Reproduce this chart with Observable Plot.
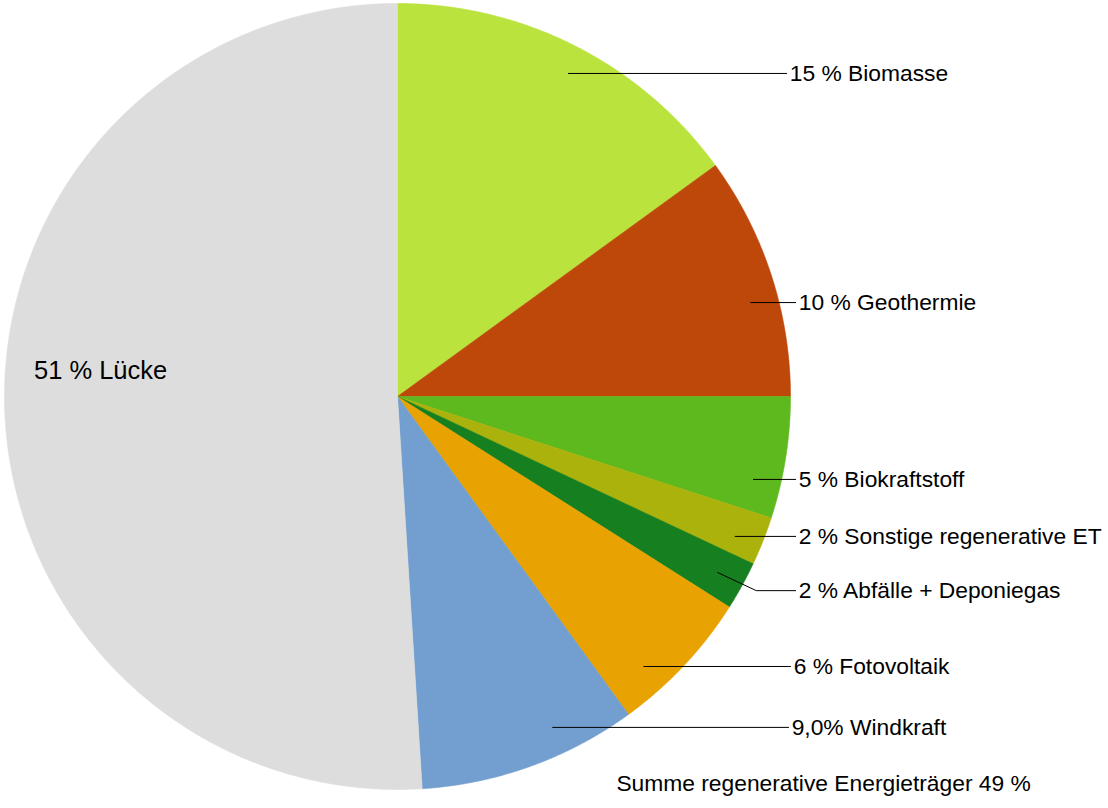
<!DOCTYPE html>
<html>
<head>
<meta charset="utf-8">
<script src="https://cdn.jsdelivr.net/npm/d3@7"></script>
<script src="https://cdn.jsdelivr.net/npm/@observablehq/plot@0.6"></script>
<style>
  html, body { margin: 0; padding: 0; background: #fff; }
  #chart svg { display: block; }
</style>
</head>
<body>
<div id="chart"></div>
<script>
// ---- data ----
const categories = ["Biomasse", "Geothermie", "Biokraftstoff", "Sonstige regenerative ET", "Abfälle + Deponiegas", "Fotovoltaik", "Windkraft", "Lücke"];
const shares = [15, 10, 5, 2, 2, 6, 9, 51];
const labels = ["15 % Biomasse", "10 % Geothermie", "5 % Biokraftstoff", "2 % Sonstige regenerative ET", "2 % Abfälle + Deponiegas", "6 % Fotovoltaik", "9,0% Windkraft", "51 % Lücke"];
const colors = ["#bbe33d", "#be480a", "#5eb91e", "#acb20c", "#168020", "#e8a202", "#729fcf", "#dddddd"];
const caption = "Summe regenerative Energieträger 49 %";

// label layout (data units, radius = 1)
const labelX = [0.99, 1.013, 1.013, 1.013, 1.013, 1.0, 0.995, -0.925];
const labelY = [0.822, 0.239, -0.211, -0.356, -0.494, -0.687, -0.842, 0.066];

// ---- geometry from d3.pie ----
const arcs = d3.pie().sort(null).value(d => d)(shares);
const pts = [];
arcs.forEach((a, i) => {
  const name = categories[i];
  pts.push({name, x: 0, y: 0});
  const n = Math.max(2, Math.ceil((a.endAngle - a.startAngle) / 0.005));
  for (let k = 0; k <= n; k++) {
    const t = a.startAngle + (a.endAngle - a.startAngle) * k / n;
    pts.push({name, x: Math.sin(t), y: Math.cos(t)});
  }
  pts.push({name, x: 0, y: 0});
});

const leaders = [];
const labelRows = [];
const r = 0.93, pad = 0.02;
arcs.forEach((a, i) => {
  const outside = i < categories.length - 1;
  labelRows.push({text: labels[i], x: labelX[i] + (outside ? 0.008 : 0), y: labelY[i], big: !outside});
  if (!outside) return;
  const ly = labelY[i];
  const hx = Math.sqrt(Math.max(0, r * r - ly * ly));
  const ang = Math.atan2(hx, ly);
  if (ang > a.startAngle + pad && ang < a.endAngle - pad) {
    leaders.push({id: i, x: hx, y: ly});
  } else {
    const mid = (a.startAngle + a.endAngle) / 2;
    leaders.push({id: i, x: r * Math.sin(mid), y: r * Math.cos(mid)});
    leaders.push({id: i, x: labelX[i] - 0.1, y: ly});
  }
  leaders.push({id: i, x: labelX[i], y: ly});
});

const chart = Plot.plot({
  width: 1108,
  height: 808,
  margin: 0,
  x: {domain: [-1, 1], range: [4, 790], axis: null},
  y: {domain: [-1, 1], range: [789, 3], axis: null},
  color: {domain: categories, range: colors},
  style: {fontFamily: "'Liberation Sans', Arial, sans-serif", background: "#fff"},
  marks: [
    Plot.line(pts, {x: "x", y: "y", z: "name", fill: "name", stroke: "name", strokeWidth: 0.6, curve: "linear"}),
    Plot.line(leaders, {x: "x", y: "y", z: "id", stroke: "#000", strokeWidth: 1}),
    Plot.text(labelRows.filter(d => !d.big), {x: "x", y: "y", text: "text", textAnchor: "start", fontSize: 22.8, fill: "#000"}),
    Plot.text(labelRows.filter(d => d.big), {x: "x", y: "y", text: "text", textAnchor: "start", fontSize: 25.5, fill: "#000"}),
    Plot.text([caption], {x: 0.557, y: -0.985, text: d => d, textAnchor: "start", fontSize: 22.8, fill: "#000"})
  ]
});
document.getElementById("chart").appendChild(chart);
</script>
</body>
</html>
